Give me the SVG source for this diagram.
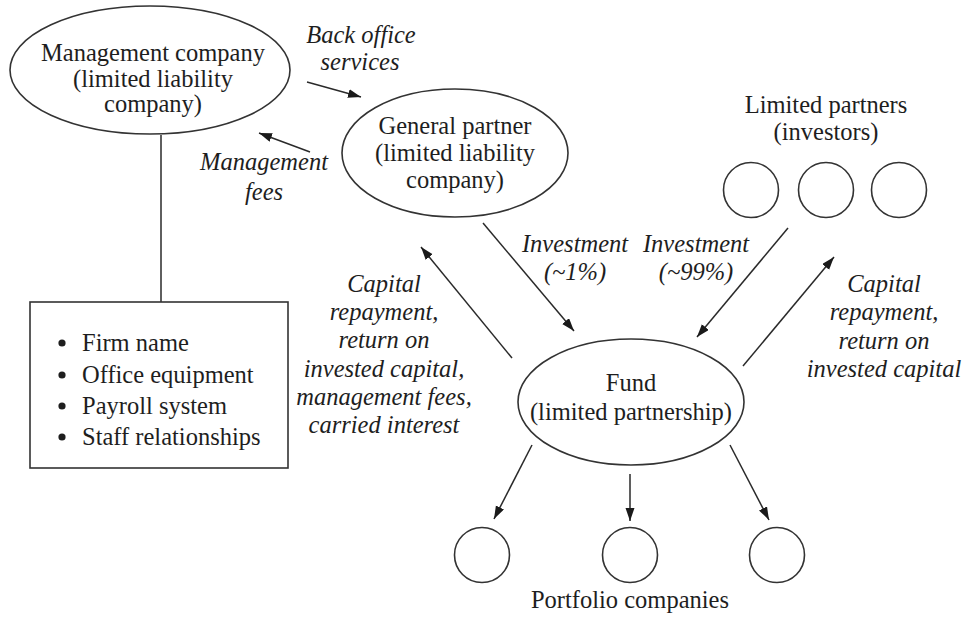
<svg xmlns="http://www.w3.org/2000/svg" width="967" height="619" viewBox="0 0 967 619">
<style>
  .shape { fill: #fff; stroke: #333; stroke-width: 1.6; }
  .t { font-family: "Liberation Serif", "Times New Roman", serif; font-size: 24.5px; fill: #1e1e1e; text-anchor: middle; }
  .tl { font-family: "Liberation Serif", "Times New Roman", serif; font-size: 24.5px; fill: #1e1e1e; }
  .it { font-family: "Liberation Serif", "Times New Roman", serif; font-size: 24.5px; font-style: italic; fill: #1e1e1e; text-anchor: middle; }
  .conn { stroke: #2a2a2a; stroke-width: 1.5; fill: none; }
  .arr { marker-end: url(#ah); }
</style>
<defs>
  <marker id="ah" markerUnits="userSpaceOnUse" markerWidth="14" markerHeight="10" refX="13" refY="4.5" orient="auto">
    <path d="M0,0 L13,4.5 L0,9 z" fill="#1a1a1a"/>
  </marker>
</defs>
<rect width="967" height="619" fill="#fff"/>

<g id="connectors">
  <line class="conn" x1="161" y1="135" x2="161" y2="302"/>
  <line class="conn arr" x1="307" y1="82" x2="361" y2="97"/>
  <line class="conn arr" x1="310" y1="152" x2="259" y2="133"/>
  <line class="conn arr" x1="483" y1="223" x2="574" y2="331"/>
  <line class="conn arr" x1="788" y1="228" x2="697" y2="337"/>
  <line class="conn arr" x1="743" y1="366" x2="834" y2="257"/>
  <line class="conn arr" x1="512" y1="358" x2="421" y2="247"/>
  <line class="conn arr" x1="532" y1="445" x2="494" y2="519"/>
  <line class="conn arr" x1="630" y1="474" x2="630" y2="521"/>
  <line class="conn arr" x1="730" y1="445" x2="769" y2="520"/>
</g>

<g id="labels">
  <text class="it" x="361" y="43">Back office</text>
  <text class="it" x="360" y="70">services</text>
  <text class="it" x="264" y="170">Management</text>
  <text class="it" x="264" y="200">fees</text>
  <text class="it" x="575" y="252">Investment</text>
  <text class="it" x="575" y="280">(~1%)</text>
  <text class="it" x="696" y="252">Investment</text>
  <text class="it" x="696" y="280">(~99%)</text>
  <text class="it" x="384" y="292">Capital</text>
  <text class="it" x="384" y="320">repayment,</text>
  <text class="it" x="384" y="348">return on</text>
  <text class="it" x="384" y="377">invested capital,</text>
  <text class="it" x="384" y="405">management fees,</text>
  <text class="it" x="384" y="433">carried interest</text>
  <text class="it" x="884" y="292">Capital</text>
  <text class="it" x="884" y="320">repayment,</text>
  <text class="it" x="884" y="349">return on</text>
  <text class="it" x="884" y="377">invested capital</text>
</g>

<g id="management-company">
  <ellipse class="shape" cx="150" cy="70" rx="140" ry="64"/>
  <text class="t" x="153" y="61">Management company</text>
  <text class="t" x="153" y="87">(limited liability</text>
  <text class="t" x="153" y="112">company)</text>
</g>

<g id="assets-box">
  <rect class="shape" x="30" y="302" width="258" height="166"/>
  <circle cx="62" cy="343" r="3.6" fill="#1e1e1e"/>
  <circle cx="62" cy="375" r="3.6" fill="#1e1e1e"/>
  <circle cx="62" cy="406" r="3.6" fill="#1e1e1e"/>
  <circle cx="62" cy="437" r="3.6" fill="#1e1e1e"/>
  <text class="tl" x="82" y="351">Firm name</text>
  <text class="tl" x="82" y="383">Office equipment</text>
  <text class="tl" x="82" y="414">Payroll system</text>
  <text class="tl" x="82" y="445">Staff relationships</text>
</g>

<g id="general-partner">
  <ellipse class="shape" cx="455" cy="153" rx="113" ry="64"/>
  <text class="t" x="455" y="134">General partner</text>
  <text class="t" x="455" y="161">(limited liability</text>
  <text class="t" x="455" y="188">company)</text>
</g>

<g id="limited-partners">
  <text class="t" x="826" y="113">Limited partners</text>
  <text class="t" x="826" y="140">(investors)</text>
  <circle class="shape" cx="751" cy="190" r="27.5"/>
  <circle class="shape" cx="826" cy="190" r="27.5"/>
  <circle class="shape" cx="899" cy="190" r="27.5"/>
</g>

<g id="fund">
  <ellipse class="shape" cx="631" cy="402" rx="113" ry="63"/>
  <text class="t" x="631" y="391">Fund</text>
  <text class="t" x="631" y="420">(limited partnership)</text>
</g>

<g id="portfolio-companies">
  <circle class="shape" cx="482" cy="555" r="27.5"/>
  <circle class="shape" cx="630" cy="555" r="27.5"/>
  <circle class="shape" cx="777" cy="555" r="27.5"/>
  <text class="t" x="630" y="608">Portfolio companies</text>
</g>
</svg>
